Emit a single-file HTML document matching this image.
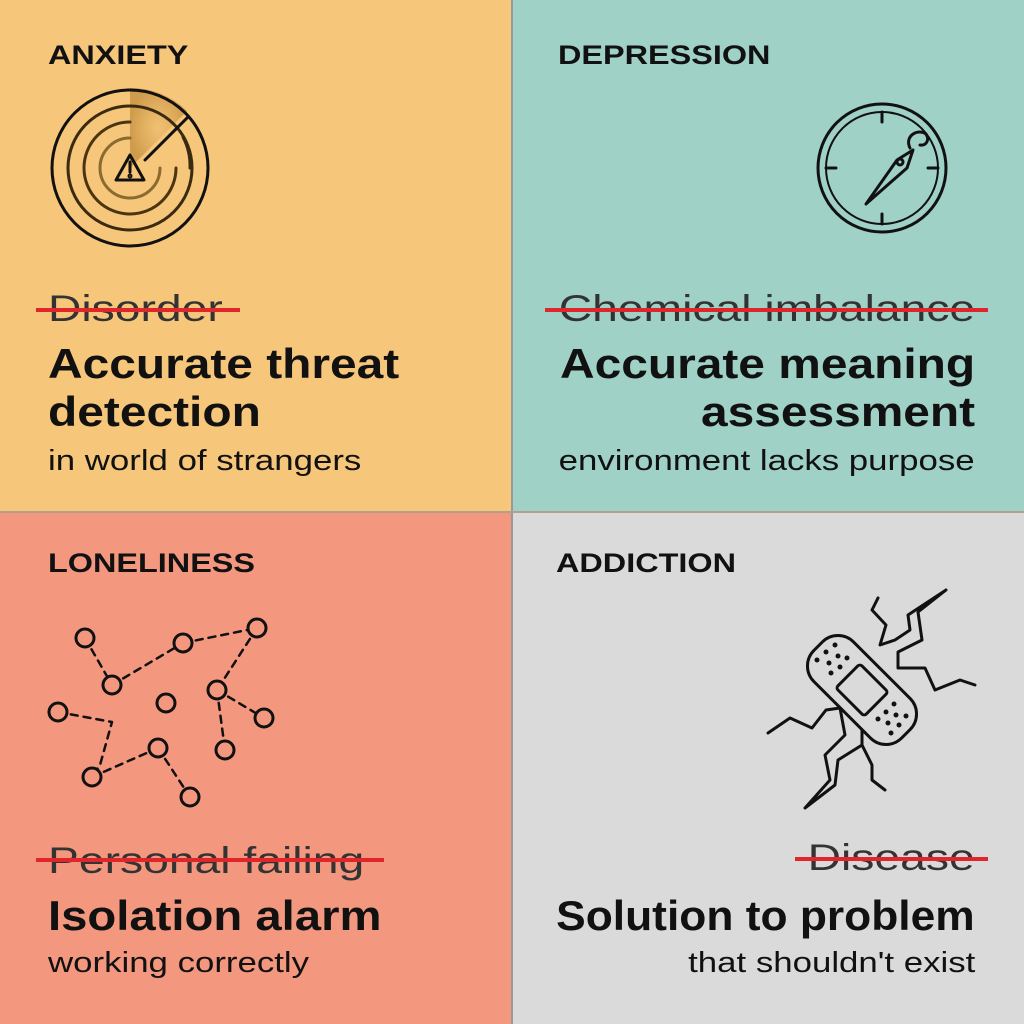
<!DOCTYPE html>
<html><head><meta charset="utf-8"><style>
body{margin:0;width:1024px;height:1024px;overflow:hidden;font-family:"Liberation Sans",sans-serif;position:relative}
.q{position:absolute;width:512px;height:512px}
.t{position:absolute;white-space:nowrap;color:#111;transform-origin:left top}
.r{text-align:right;right:49px;transform-origin:right top}
.h{font-weight:bold;font-size:27px;transform:scaleX(1.2)}
.s{font-size:37px;color:#333;transform:scaleX(1.25)}
.b{font-weight:bold;font-size:42px;line-height:48px;transform:scaleX(1.14)}
.n{font-size:29px;transform:scaleX(1.2)}
.x{position:absolute;height:4px;background:#e0262b}
</style></head><body>
<div class="q" style="left:0;top:0;background:#f6c67a"></div>
<div class="q" style="left:512px;top:0;background:#9fd1c6"></div>
<div class="q" style="left:0;top:512px;background:#f4977f"></div>
<div class="q" style="left:512px;top:512px;background:#dadada"></div>
<div style="position:absolute;left:511px;top:0;width:2px;height:1024px;background:#999"></div>
<div style="position:absolute;left:0;top:511px;width:1024px;height:2px;background:#b0a090"></div>

<div class="t h" style="left:48px;top:40px">ANXIETY</div>
<div class="t s" style="left:48px;top:288px">Disorder</div><div class="x" style="left:36px;top:308px;width:204px"></div>
<div class="t b" style="left:48px;top:340px">Accurate threat<br>detection</div>
<div class="t n" style="left:48px;top:445px">in world of strangers</div>

<div class="t h" style="left:558px;top:40px">DEPRESSION</div>
<div class="t s r" style="top:288px">Chemical imbalance</div><div class="x" style="left:545px;top:308px;width:443px"></div>
<div class="t b r" style="top:340px">Accurate meaning<br>assessment</div>
<div class="t n r" style="top:445px">environment lacks purpose</div>

<div class="t h" style="left:48px;top:548px">LONELINESS</div>
<div class="t s" style="left:48px;top:840px">Personal failing</div><div class="x" style="left:36px;top:858px;width:348px"></div>
<div class="t b" style="left:48px;top:892px;transform:scaleX(1.125)">Isolation alarm</div>
<div class="t n" style="left:48px;top:947px">working correctly</div>

<div class="t h" style="left:556px;top:548px">ADDICTION</div>
<div class="t s r" style="top:837px">Disease</div><div class="x" style="left:795px;top:857px;width:193px"></div>
<div class="t b r" style="top:892px;transform:scaleX(1.055)">Solution to problem</div>
<div class="t n r" style="top:947px">that shouldn't exist</div>

<svg width="1024" height="1024" style="position:absolute;left:0;top:0" fill="none" stroke="#111" stroke-width="3" stroke-linecap="round" stroke-linejoin="round">
<defs><radialGradient id="g" cx="0.5" cy="0.5" r="0.5"><stop offset="0" stop-color="#c08a30" stop-opacity="0.1"/><stop offset="1" stop-color="#a87020" stop-opacity="0.5"/></radialGradient></defs>
<path d="M130 168 L187 111 A80 80 0 0 0 130 88 Z" fill="url(#g)" stroke="none"/>
<circle cx="130" cy="168" r="78"/>
<circle cx="130" cy="168" r="62" stroke="#3a2a10"/>
<path d="M130 122 A46 46 0 1 0 176 168" stroke="#4a3510"/>
<path d="M130 138 A30 30 0 1 0 160 168" stroke="#8a6a30"/>
<path d="M183 137 A62 62 0 0 1 190 168" stroke="#3a2a10"/>
<line x1="145" y1="160" x2="188" y2="117"/>
<path d="M130 155 L144 180 L116 180 Z"/><line x1="130" y1="162" x2="130" y2="172"/><circle cx="130" cy="176" r="1" />
<circle cx="882" cy="168" r="64" stroke-width="3"/><circle cx="882" cy="168" r="56" stroke-width="2"/>
<line x1="882" y1="112" x2="882" y2="122"/><line x1="826" y1="168" x2="836" y2="168"/><line x1="882" y1="224" x2="882" y2="214"/><line x1="938" y1="168" x2="928" y2="168"/>
<path d="M866 204 L897 160 L913 150 L907 168 Z"/><circle cx="900" cy="162" r="3"/>
<path d="M910 148 C904 136 918 128 926 134 C930 140 926 146 920 145"/>
<g stroke-dasharray="7 6" stroke-width="2.5">
<line x1="85" y1="638" x2="112" y2="685"/><line x1="112" y1="685" x2="183" y2="643"/><line x1="183" y1="643" x2="257" y2="628"/><line x1="257" y1="628" x2="217" y2="690"/><line x1="217" y1="690" x2="264" y2="718"/><line x1="217" y1="690" x2="225" y2="750"/><polyline points="58,712 112,722 100,765 92,777"/><line x1="158" y1="748" x2="92" y2="777"/><line x1="158" y1="748" x2="190" y2="797"/>
</g>
<g fill="#f4977f">
<circle cx="85" cy="638" r="9"/><circle cx="183" cy="643" r="9"/><circle cx="257" cy="628" r="9"/><circle cx="112" cy="685" r="9"/><circle cx="166" cy="703" r="9"/><circle cx="217" cy="690" r="9"/><circle cx="58" cy="712" r="9"/><circle cx="264" cy="718" r="9"/><circle cx="158" cy="748" r="9"/><circle cx="225" cy="750" r="9"/><circle cx="92" cy="777" r="9"/><circle cx="190" cy="797" r="9"/>
</g>
<polyline points="878,598 872,610 886,625 880,645 895,640 910,630 908,615 946,590 918,612 922,640 898,652 898,668 925,668 935,690 960,680 975,685"/>
<polyline points="768,733 790,718 812,728 826,710 840,708"/>
<polyline points="840,708 845,735 825,755 830,780 805,808 835,785 838,760 862,745 862,720"/>
<polyline points="862,745 872,765 872,780 885,790"/>
<g transform="rotate(45 862 690)"><rect x="800" y="662" width="124" height="56" rx="22" fill="#dadada"/><rect x="842" y="673" width="40" height="34" rx="3"/></g>
<g fill="#111" stroke="none"><circle cx="835" cy="645" r="2.5"/><circle cx="826" cy="652" r="2.5"/><circle cx="838" cy="656" r="2.5"/><circle cx="817" cy="660" r="2.5"/><circle cx="829" cy="663" r="2.5"/><circle cx="847" cy="658" r="2.5"/><circle cx="831" cy="673" r="2.5"/><circle cx="840" cy="667" r="2.5"/>
<circle cx="894" cy="704" r="2.5"/><circle cx="886" cy="712" r="2.5"/><circle cx="896" cy="715" r="2.5"/><circle cx="906" cy="716" r="2.5"/><circle cx="878" cy="719" r="2.5"/><circle cx="888" cy="723" r="2.5"/><circle cx="899" cy="725" r="2.5"/><circle cx="891" cy="733" r="2.5"/></g>
</svg>
</body></html>
